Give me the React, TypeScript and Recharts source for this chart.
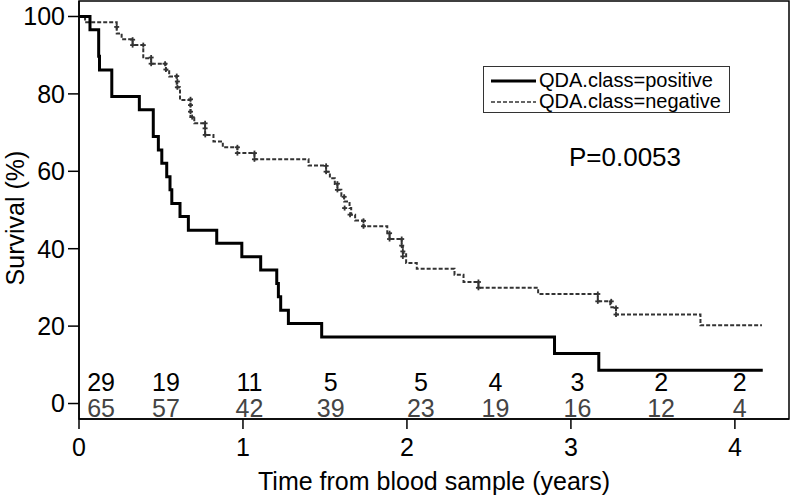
import React from 'react';
import {
  ComposedChart, Line, Scatter, XAxis, YAxis, ReferenceArea, ReferenceDot, Legend, Label,
} from 'recharts';

// Kaplan-Meier steps (time in years, survival in %)
const posTime = [0, 0.067, 0.12, 0.125, 0.2, 0.368, 0.453, 0.484, 0.505, 0.535, 0.555, 0.566, 0.616, 0.667, 0.84, 0.993, 1.108, 1.206, 1.216, 1.23, 1.277, 1.48, 2.9, 3.17, 4.17];
const posSurv = [100, 96.6, 89.7, 86.2, 79.3, 75.9, 69.0, 65.5, 62.1, 58.6, 55.2, 51.7, 48.3, 44.8, 41.4, 37.9, 34.5, 31.0, 27.6, 24.1, 20.7, 17.2, 12.9, 8.6, 8.6];

const negTime = [0, 0.037, 0.23, 0.26, 0.327, 0.392, 0.44, 0.53, 0.55, 0.596, 0.616, 0.68, 0.703, 0.769, 0.82, 0.877, 0.966, 1.07, 1.4, 1.507, 1.53, 1.56, 1.576, 1.6, 1.617, 1.65, 1.66, 1.684, 1.735, 1.88, 1.894, 1.968, 1.975, 1.995, 2.06, 2.29, 2.345, 2.436, 2.8, 3.164, 3.24, 3.275, 3.79, 4.165];
const negSurv = [100, 98.5, 95.6, 94.1, 92.6, 89.2, 87.8, 86.2, 84.5, 81.7, 78.4, 74.0, 72.4, 69.4, 67.7, 66.2, 64.7, 63.1, 61.5, 59.9, 58.2, 56.7, 55.2, 53.7, 52.2, 50.5, 48.8, 47.3, 45.8, 44.0, 42.5, 40.7, 38.9, 36.3, 34.8, 33.3, 31.4, 29.9, 28.3, 26.4, 24.9, 23.0, 20.2, 20.2];

// censoring marks on the negative curve
const censorTime = [0.23, 0.327, 0.327, 0.392, 0.44, 0.44, 0.525, 0.53, 0.596, 0.6, 0.6, 0.68, 0.68, 0.68, 0.69, 0.769, 0.769, 0.77, 0.966, 0.966, 1.07, 1.07, 1.507, 1.507, 1.576, 1.576, 1.617, 1.62, 1.653, 1.735, 1.735, 1.894, 1.894, 1.968, 1.968, 1.975, 1.975, 2.436, 2.436, 3.164, 3.164, 3.246, 3.275, 3.275];
const censorSurv = [97.3, 94.0, 92.6, 92.6, 89.4, 87.8, 87.8, 86.3, 84.6, 83.2, 81.7, 78.6, 77.1, 75.4, 74.0, 72.4, 71.1, 69.4, 66.2, 64.7, 64.7, 63.1, 61.4, 59.9, 56.8, 55.2, 53.4, 50.5, 48.8, 47.2, 45.8, 44.0, 42.5, 42.5, 40.8, 39.3, 38.0, 31.4, 29.9, 28.3, 26.4, 26.4, 24.7, 23.0];

// numbers at risk
const riskTime = [0.135, 0.53, 1.04, 1.535, 2.085, 2.54, 3.04, 3.55, 4.03];
const riskPositive = [29, 19, 11, 5, 5, 4, 3, 2, 2];
const riskNegative = [65, 57, 42, 39, 23, 19, 16, 12, 4];

const xTicks = [0, 1, 2, 3, 4];
const yTicks = [0, 20, 40, 60, 80, 100];

const seriesNames = ['QDA.class=positive', 'QDA.class=negative'];
const pValue = 'P=0.0053';

const FONT = '"Liberation Sans", Arial, Helvetica, sans-serif';
const X_MAX = 4.33;
const Y_MIN = -4;
const Y_MAX = 104;
const ROW_POS = 5.6;
const ROW_NEG = -1.2;

const posData = posTime.map((t, i) => ({ t, s: posSurv[i] }));
const negData = negTime.map((t, i) => ({ t, s: negSurv[i] }));
const censorData = censorTime.map((t, i) => ({ t, s: censorSurv[i] }));
const riskPosData = riskTime.map((t, i) => ({ t, s: ROW_POS, n: riskPositive[i] }));
const riskNegData = riskTime.map((t, i) => ({ t, s: ROW_NEG, n: riskNegative[i] }));

function CensorMark({ cx, cy }: any) {
  return (
    <g stroke="#333" strokeWidth={1.8}>
      <line x1={cx - 2.5} x2={cx + 2.5} y1={cy} y2={cy} />
      <line x1={cx} x2={cx} y1={cy - 2.5} y2={cy + 2.5} />
    </g>
  );
}

const riskLabel = (color: string) => ({ cx, cy, payload }: any) => (
  <text x={cx} y={cy} textAnchor="middle" dominantBaseline="central"
    fontFamily={FONT} fontSize={25} fill={color}>{payload.n}</text>
);

function LegendBox() {
  return (
    <div style={{
      border: '1px solid #333', width: 245, height: 42, paddingTop: 3,
      boxSizing: 'content-box', fontFamily: FONT, fontSize: 20, color: '#000', background: '#fff',
    }}>
      {seriesNames.map((name, i) => (
        <div key={name} style={{ display: 'flex', alignItems: 'center', height: 21, lineHeight: '21px' }}>
          <svg width={55} height={21}>
            <line x1={7} x2={52} y1={11} y2={11} stroke={i === 0 ? '#000' : '#333'}
              strokeWidth={i === 0 ? 3 : 1.5} strokeDasharray={i === 0 ? undefined : '4 2'} />
          </svg>
          <span style={{ whiteSpace: 'nowrap' }}>{name}</span>
        </div>
      ))}
    </div>
  );
}

export default function App() {
  return (
    <div style={{ position: 'absolute', left: 0, top: 0, background: '#fff' }}>
      <ComposedChart width={791} height={497} margin={{ top: 1, right: 2, bottom: 0, left: 0 }}
        style={{ fontFamily: FONT }}>
        <XAxis dataKey="t" type="number" domain={[0, X_MAX]} ticks={xTicks} interval={0}
          allowDataOverflow height={78} tickSize={10} tickMargin={9}
          axisLine={{ stroke: '#000', strokeWidth: 1.5 }} tickLine={{ stroke: '#000', strokeWidth: 1.5 }}
          tick={{ fill: '#000', fontSize: 25, fontFamily: FONT }}>
          <Label content={() => (
            <text x={434} y={481} textAnchor="middle" dominantBaseline="central"
              fontFamily={FONT} fontSize={25} fill="#000">Time from blood sample (years)</text>
          )} />
        </XAxis>
        <YAxis type="number" domain={[Y_MIN, Y_MAX]} ticks={yTicks} interval={0}
          allowDataOverflow width={79} tickSize={11} tickMargin={3}
          axisLine={{ stroke: '#000', strokeWidth: 1.5 }} tickLine={{ stroke: '#000', strokeWidth: 1.5 }}
          tick={{ fill: '#000', fontSize: 25, fontFamily: FONT }}>
          <Label content={() => (
            <text x={15} y={218} transform="rotate(-90, 15, 218)" textAnchor="middle"
              dominantBaseline="central" fontFamily={FONT} fontSize={25} fill="#000">Survival (%)</text>
          )} />
        </YAxis>

        <Line data={negData} dataKey="s" type="stepAfter" stroke="#333" strokeWidth={2}
          strokeDasharray="4 2" dot={false} activeDot={false} isAnimationActive={false} />
        <Line data={posData} dataKey="s" type="stepAfter" stroke="#000" strokeWidth={3}
          dot={false} activeDot={false} isAnimationActive={false} />
        <Scatter data={censorData} dataKey="s" shape={CensorMark} isAnimationActive={false} />
        <Scatter data={riskPosData} dataKey="s" shape={riskLabel('#000')} isAnimationActive={false} />
        <Scatter data={riskNegData} dataKey="s" shape={riskLabel('#444')} isAnimationActive={false} />

        <ReferenceDot x={3.33} y={63.7} r={0} ifOverflow="visible"
          label={{ value: pValue, position: 'center', fontSize: 26, fill: '#000', fontFamily: FONT }} />
        <ReferenceArea x1={0} x2={X_MAX} y1={Y_MIN} y2={Y_MAX} fill="none"
          stroke="#000" strokeWidth={1.5} ifOverflow="visible" />

        <Legend layout="vertical" align="center" verticalAlign="middle" content={<LegendBox />}
          wrapperStyle={{ left: 483, top: 66, width: 247, height: 46 }} />
      </ComposedChart>
    </div>
  );
}
